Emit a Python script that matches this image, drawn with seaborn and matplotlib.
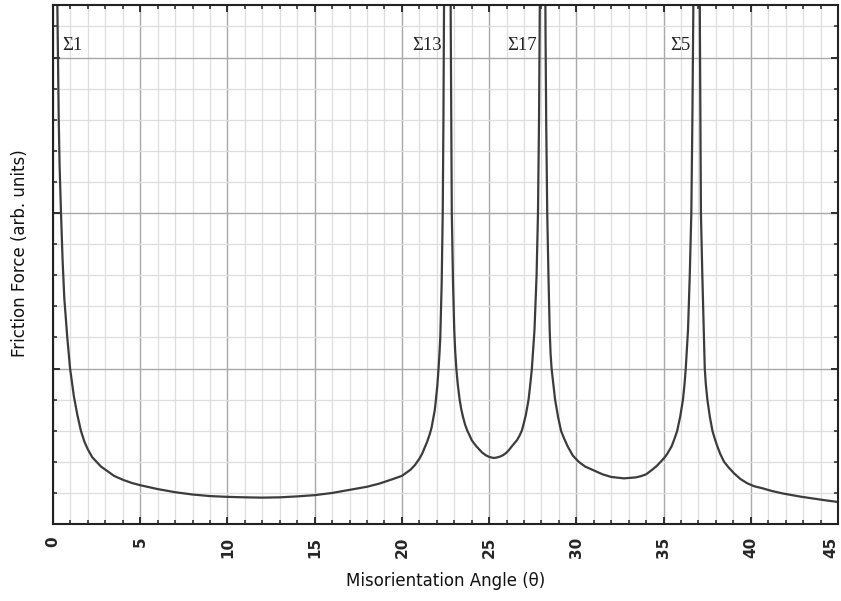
import numpy as np
import pandas as pd
import matplotlib
matplotlib.use("Agg")
import matplotlib.pyplot as plt
from matplotlib.ticker import MultipleLocator, NullFormatter
import seaborn as sns

# Misorientation angle (deg)
angle = [
    0.22, 0.25, 0.29, 0.33, 0.38, 0.46, 0.55, 0.65, 0.82, 0.98,
    1.1, 1.2, 1.3, 1.4, 1.5, 1.6, 1.8, 2.0, 2.25, 2.5, 2.75, 3.0, 3.5,
    4.0, 4.5, 5.0, 6.0, 7.0, 8.0, 9.0, 10.0, 11.0, 12.0, 13.0, 14.0, 15.0,
    16.0, 17.0, 18.0, 18.7, 19.5, 20.0, 20.25, 20.5, 20.75, 21.0, 21.15,
    21.3, 21.45, 21.6, 21.7, 21.8, 21.88, 21.95, 22.03, 22.1, 22.15, 22.2,
    22.28, 22.34, 22.38, 22.41, 22.44,
    22.77, 22.8, 22.83, 22.86, 22.93, 23.0, 23.05, 23.12, 23.2, 23.31,
    23.4, 23.5, 23.62, 23.75, 23.88, 24.0, 24.13, 24.27, 24.6, 24.8,
    25.0, 25.25, 25.4, 25.6, 25.8, 26.0, 26.15, 26.3, 26.45, 26.6,
    26.75, 26.87, 26.98, 27.1, 27.18, 27.26, 27.36, 27.45, 27.6, 27.72,
    27.8, 27.86, 27.9, 27.93,
    28.2, 28.23, 28.27, 28.33, 28.4, 28.47, 28.52, 28.58, 28.68, 28.78,
    28.95, 29.12, 29.3, 29.5, 29.8, 30.14, 30.5, 30.9, 31.5, 32.0,
    32.72, 33.4, 33.7, 34.0, 34.35, 34.6, 34.83, 35.03, 35.2, 35.33,
    35.46, 35.63, 35.78, 35.95, 36.11, 36.2, 36.27, 36.4, 36.5, 36.59,
    36.65, 36.7, 36.74,
    37.05, 37.08, 37.11, 37.14, 37.22, 37.3, 37.36, 37.42, 37.51, 37.65,
    37.8, 37.93, 38.08, 38.25, 38.47, 38.72, 39.04, 39.4, 39.8, 40.2,
    40.67, 41.2, 41.82, 42.87, 44.2, 45.0,
]
# Friction force (arb. units) at those angles
friction = [
    3.6, 3.34, 3.0, 2.6, 2.3, 2.0, 1.7, 1.45, 1.2, 1.0,
    0.9, 0.82, 0.76, 0.7, 0.65, 0.6, 0.53, 0.48, 0.43, 0.4, 0.37, 0.35, 0.31,
    0.285, 0.265, 0.25, 0.225, 0.205, 0.19, 0.18, 0.175, 0.172, 0.17, 0.172, 0.178, 0.186,
    0.2, 0.22, 0.24, 0.26, 0.29, 0.31, 0.33, 0.35, 0.38, 0.42, 0.45,
    0.49, 0.53, 0.58, 0.62, 0.68, 0.73, 0.8, 0.89, 1.0, 1.09, 1.2,
    1.55, 2.0, 2.6, 3.2, 4.0,
    4.0, 3.2, 2.6, 2.0, 1.55, 1.25, 1.12, 1.0, 0.9, 0.8,
    0.74, 0.69, 0.64, 0.6, 0.57, 0.54, 0.52, 0.5, 0.46, 0.443,
    0.432, 0.425, 0.427, 0.433, 0.443, 0.46, 0.478, 0.5, 0.52, 0.54,
    0.57, 0.6, 0.645, 0.7, 0.75, 0.8, 0.9, 1.0, 1.25, 1.6,
    2.0, 2.6, 3.2, 4.0,
    4.0, 3.2, 2.6, 2.0, 1.6, 1.25, 1.1, 1.0, 0.9, 0.8,
    0.69, 0.6, 0.55, 0.5, 0.44, 0.4, 0.37, 0.35, 0.32, 0.303,
    0.294, 0.3, 0.308, 0.32, 0.35, 0.373, 0.4, 0.425, 0.45, 0.475,
    0.5, 0.55, 0.6, 0.69, 0.8, 0.9, 1.0, 1.25, 1.6, 2.0,
    2.6, 3.2, 4.0,
    4.0, 3.2, 2.6, 2.0, 1.6, 1.25, 1.0, 0.9, 0.8, 0.69,
    0.6, 0.55, 0.5, 0.45, 0.4, 0.365, 0.326, 0.29, 0.262, 0.243,
    0.23, 0.213, 0.197, 0.176, 0.154, 0.142,
]

# CSL boundary labels and their peak angles
peak_labels = ["\u03a31", "\u03a313", "\u03a317", "\u03a35"]
peak_angles = [0.25, 22.6, 28.07, 36.89]

x_ticks = [0, 5, 10, 15, 20, 25, 30, 35, 40, 45]

df = pd.DataFrame({"angle": angle, "friction": friction})

sns.set_theme(style="white")
plt.rcParams["font.family"] = ["DejaVu Sans"]

fig = plt.figure(figsize=(8.41, 6.01), dpi=100)
ax = fig.add_axes([0.063, 0.128, 0.9335, 0.8637])

sns.lineplot(data=df, x="angle", y="friction", ax=ax, color="#3c3c3c",
             linewidth=1.6, sort=False, estimator=None)

ax.set_xlim(0, 45)
ax.set_ylim(0, 3.338)

ax.xaxis.set_minor_locator(MultipleLocator(1))
ax.yaxis.set_major_locator(MultipleLocator(1))
ax.yaxis.set_minor_locator(MultipleLocator(0.2))
ax.set_xticks(x_ticks)
# the last tick label is drawn separately so it stays inside the figure
ax.set_xticklabels([str(t) for t in x_ticks[:-1]] + [""], rotation=90,
                   fontweight="bold", fontsize=11)
ax.annotate(str(x_ticks[-1]), xy=(x_ticks[-1], 0),
            xycoords=("data", "axes fraction"), xytext=(0, -9.2),
            textcoords="offset points", rotation=90, ha="right", va="top",
            fontweight="bold", fontsize=11, color="#262626")
ax.yaxis.set_major_formatter(NullFormatter())

ax.grid(True, which="major", color="#a8a8a8", linewidth=1.0)
ax.grid(True, which="minor", color="#dedede", linewidth=0.9)
ax.set_axisbelow(True)

ax.tick_params(axis="both", which="both", direction="in", top=True, right=True,
               bottom=True, left=True, color="#222222")
ax.tick_params(which="major", length=5, width=1.3)
ax.tick_params(which="minor", length=3, width=1.1)
ax.tick_params(axis="x", which="major", pad=9)

for s in ax.spines.values():
    s.set_visible(True)
    s.set_color("#222222")
    s.set_linewidth(1.5)

ax.set_xlabel("Misorientation Angle (\u03b8)", fontsize=12, labelpad=10,
              color="#111111")
ax.set_ylabel("Friction Force (arb. units)", fontsize=12, color="#111111")
ax.yaxis.set_label_coords(-0.03, 0.522)

serif = ["Liberation Serif", "DejaVu Serif"]
for i, (lab, pa) in enumerate(zip(peak_labels, peak_angles)):
    if i == 0:
        ax.text(pa + 0.3, 3.02, lab, ha="left", va="bottom", fontsize=13.5,
                family=serif, color="#222222")
    else:
        ax.text(pa - 0.32, 3.02, lab, ha="right", va="bottom", fontsize=13.5,
                family=serif, color="#222222")

fig.savefig("out.png", dpi=100)
